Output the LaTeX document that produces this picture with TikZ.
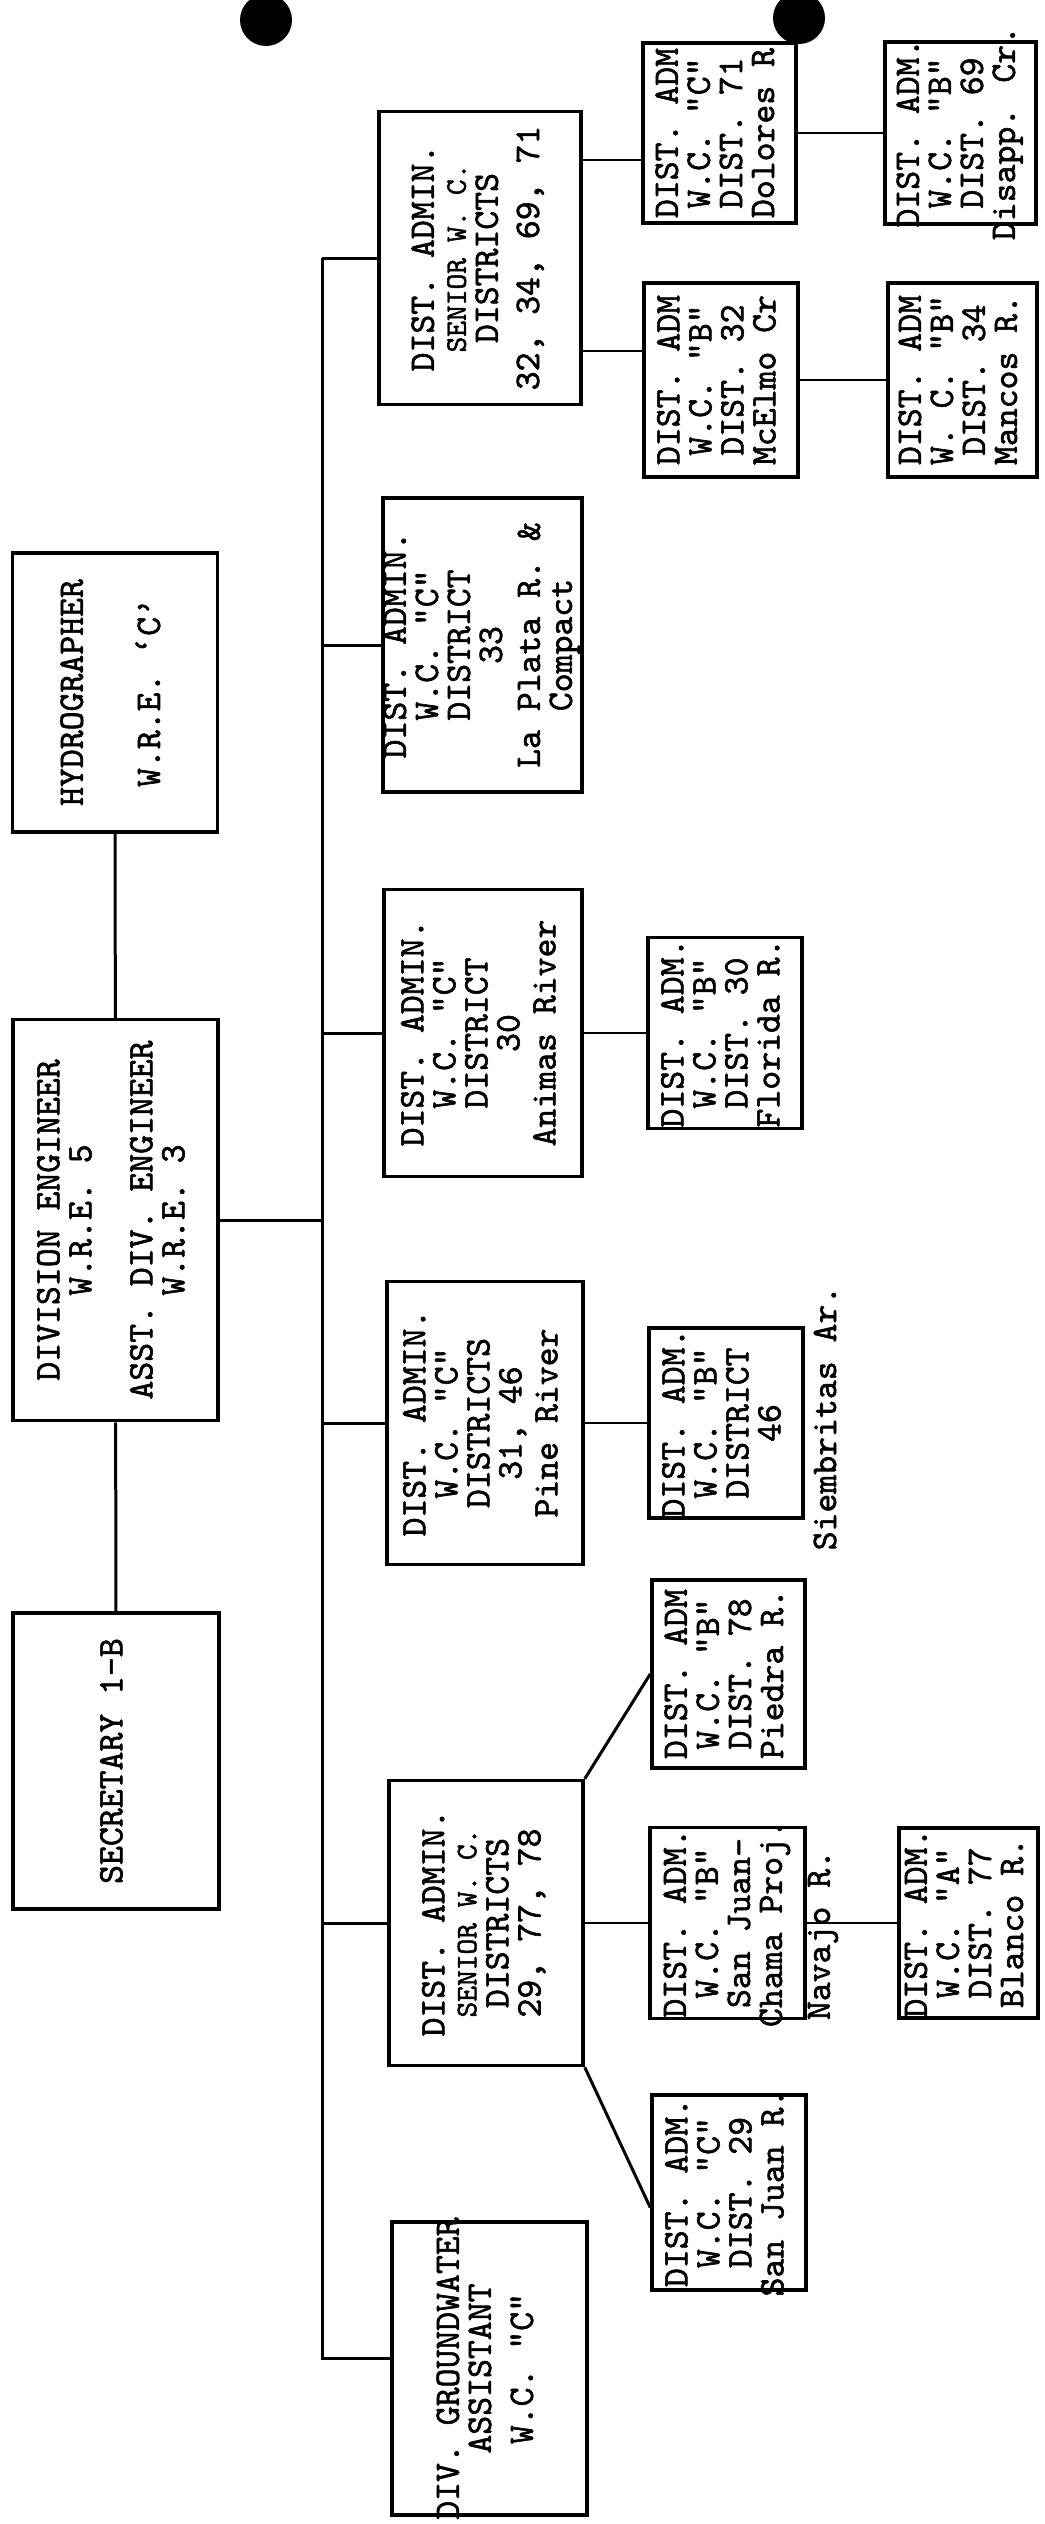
\documentclass[tikz,border=0pt]{standalone}
\usepackage{fontspec}
\newfontfamily\typewriter{lmmono10-regular.otf}[FakeBold=1.6]

% text of a box, turned to read upwards
\newcommand{\vlines}[1]{\makebox[0pt]{\vbox to 0pt{\vss\hbox{\rotatebox{90}{\begin{tabular}{@{}c@{}}#1\end{tabular}}}\vss}}}
\newcommand{\minor}[1]{{\fontsize{30}{32}\selectfont #1}}

\tikzset{
  unit/.style 2 args={draw, line width=3.5pt, inner sep=0pt,
    minimum width=#1, minimum height=#2,
    font=\typewriter\fontsize{36}{32}\selectfont},
  note/.style={inner sep=0pt, font=\typewriter\fontsize{36}{32}\selectfont},
  link/.style={line width=3pt},
  thin link/.style={line width=2.5pt}
}

\begin{document}
\begin{tikzpicture}[x=1pt,y=-1pt]
    \path[use as bounding box] (0,0) rectangle (1044,2524);
    % punch holes
    \fill (266,20) circle (26pt);
    \fill (799,18) circle (26pt);

    % division office
    \node[unit={205pt}{279pt}] (hydro) at (115,692.5) {\vlines{HYDROGRAPHER\\[43pt] W.R.E. ‘C’}};
    \node[unit={205pt}{401pt}] (diveng) at (115.5,1220) {\vlines{DIVISION ENGINEER\\ W.R.E. 5\\[29pt] ASST. DIV. ENGINEER\\ W.R.E. 3}};
    \node[unit={206pt}{296pt}] (secretary) at (116,1761) {\vlines{SECRETARY 1-B}};

    % district administrators
    \node[unit={202pt}{293pt}] (senior32) at (480,258) {\vlines{DIST. ADMIN.\\ \minor{SENIOR W. C.}\\ DISTRICTS\\[9pt] 32, 34, 69, 71}};
    \node[unit={199pt}{294pt}] (laplata) at (482.5,645) {\vlines{DIST. ADMIN.\\ W.C. “C”\\ DISTRICT\\ 33\\[6pt] La Plata R. \&\\ Compact}};
    \node[unit={198pt}{287pt}] (animas) at (483,1033) {\vlines{DIST. ADMIN.\\ W.C. “C”\\ DISTRICT\\ 30\\[4pt] Animas River}};
    \node[unit={196pt}{283pt}] (pine) at (485,1423) {\vlines{DIST. ADMIN.\\ W.C. “C”\\ DISTRICTS\\ 31, 46\\[4pt] Pine River}};
    \node[unit={194pt}{285pt}] (senior29) at (486,1923) {\vlines{DIST. ADMIN.\\ \minor{SENIOR W. C.}\\ DISTRICTS\\ 29, 77, 78}};
    \node[unit={195pt}{293pt}] (gw) at (489.5,2368.5) {\vlines{DIV. GROUNDWATER\\ ASSISTANT\\[10pt] W.C. “C”}};

    % water commissioners
    \node[unit={153pt}{180pt}] (dolores) at (719.5,133) {\vlines{DIST. ADM\\ W.C. “C”\\ DIST. 71\\ Dolores R}};
    \node[unit={151pt}{182pt}] (disapp) at (960.5,133) {\vlines{DIST. ADM.\\ W.C. “B”\\ DIST. 69\\ Disapp. Cr.}};
    \node[unit={154pt}{194pt}] (mcelmo) at (721,380) {\vlines{DIST. ADM\\ W.C. “B”\\ DIST. 32\\ McElmo Cr}};
    \node[unit={149pt}{194pt}] (mancos) at (962.5,380) {\vlines{DIST. ADM\\ W. C. “B”\\ DIST. 34\\ Mancos R.}};
    \node[unit={154pt}{191pt}] (florida) at (725,1033) {\vlines{DIST. ADM.\\ W.C. “B”\\ DIST. 30\\ Florida R.}};
    \node[unit={154pt}{190pt}] (siembritas) at (726,1423) {\vlines{DIST. ADM.\\ W.C. “B”\\ DISTRICT\\ 46}};
    \node[unit={153pt}{188pt}] (piedra) at (728.5,1674) {\vlines{DIST. ADM\\ W.C. “B”\\ DIST. 78\\ Piedra R.}};
    \node[unit={155pt}{191pt}] (sjc) at (727.5,1923) {\vlines{DIST. ADM.\\ W.C. “B”\\ San Juan-\\ Chama Proj.}};
    \node[unit={139pt}{190pt}] (blanco) at (968.5,1923) {\vlines{DIST. ADM.\\ W.C. “A”\\ DIST. 77\\ Blanco R.}};
    \node[unit={154pt}{195pt}] (sanjuan) at (729,2192.5) {\vlines{DIST. ADM.\\ W.C. “C”\\ DIST. 29\\ San Juan R.}};

    \node[note] (siembritas-ar) at (825,1418) {\rotatebox{90}{Siembritas Ar.}};
    \node[note] (navajo) at (823,1935) {\rotatebox{90}{Navajo R.}};

    % connectors
    \coordinate (bus) at (322,0);
    \coordinate (gw-in) at ([yshift=10.5pt]gw.west);
    \draw[link] (hydro) -- (diveng) -- (secretary);
    \draw[link] (senior32.west -| bus) -- (gw-in -| bus) -- (gw-in);
    \draw[link] (diveng.east) -- (diveng.east -| bus);
    \foreach \n in {senior32,laplata,animas,pine,senior29}
        \draw[link] (\n.west) -- (\n.west -| bus);

    \draw[thin link] ([yshift=98pt]senior32.east) -- ([yshift=-27pt]dolores.west);
    \draw[thin link] ([yshift=-93pt]senior32.east) -- ([yshift=29pt]mcelmo.west);
    \draw[thin link] (dolores) -- (disapp);
    \draw[thin link] (mcelmo) -- (mancos);
    \draw[thin link] (animas) -- (florida);
    \draw[thin link] (pine) -- (siembritas);
    \draw[thin link] (senior29) -- (sjc) -- (blanco);
    \draw[link] (senior29.north east) -- (piedra.west);
    \draw[link] (senior29.south east) -- ([yshift=-15pt]sanjuan.west);
\end{tikzpicture}
\end{document}
